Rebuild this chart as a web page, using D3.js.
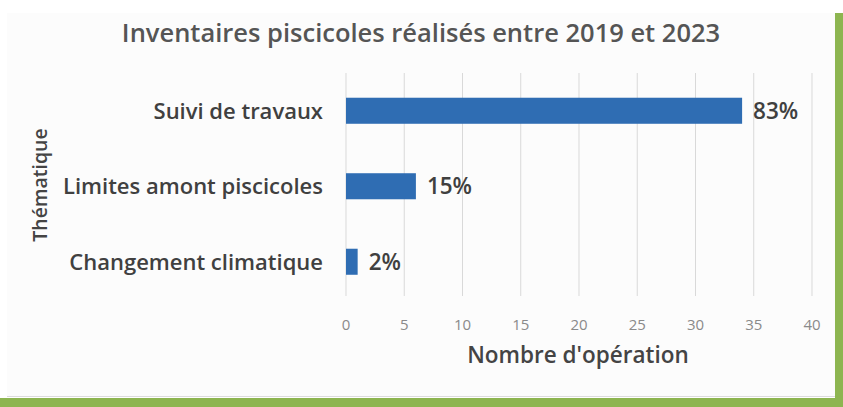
<!DOCTYPE html>
<meta charset="utf-8">
<style>
body {margin: 0; background: #fff;}
text {font-family: "Open Sans", sans-serif;}
</style>
<html>
<body>
<script src="https://d3js.org/d3.v7.min.js"></script>
<script>
var width = 843,
    height = 407;

// data
var themes = ["Suivi de travaux", "Limites amont piscicoles", "Changement climatique"];
var counts = [34, 6, 1];
var pctLabels = ["83%", "15%", "2%"];
var xTicks = [0, 5, 10, 15, 20, 25, 30, 35, 40];

var svg = d3.select("body").append("svg")
    .attr("width", width)
    .attr("height", height);

// green frame + light panel
svg.append("rect").attr("x", 0).attr("y", 398).attr("width", width).attr("height", 9).attr("fill", "#8db550");
svg.append("rect").attr("x", 835).attr("y", 13).attr("width", 8).attr("height", 394).attr("fill", "#8db550");
svg.append("rect").attr("x", 7).attr("y", 13).attr("width", 828).attr("height", 383).attr("fill", "#fcfcfc");
svg.append("line").attr("x1", 7).attr("x2", 835).attr("y1", 396.5).attr("y2", 396.5).attr("stroke", "#dcdcdc");

var x = d3.scaleLinear()
    .domain([0, 40])
    .range([346, 812]);

var y = d3.scaleBand()
    .domain(themes)
    .range([73, 299.5])
    .paddingInner(0.655)
    .paddingOuter(0.3275);

// gridlines
svg.append("g").selectAll("line")
    .data(xTicks)
    .enter().append("line")
    .attr("x1", d => x(d)).attr("x2", d => x(d))
    .attr("y1", 73).attr("y2", 296)
    .attr("stroke", "#d9d9d9")
    .attr("stroke-width", 1);

// x tick labels
svg.append("g").selectAll("text")
    .data(xTicks)
    .enter().append("text")
    .attr("x", d => x(d))
    .attr("y", 330)
    .attr("text-anchor", "middle")
    .attr("fill", "#8a8a8a")
    .style("font-size", "15px")
    .text(d => d);

// bars
svg.append("g").selectAll("rect")
    .data(counts)
    .enter().append("rect")
    .attr("x", x(0))
    .attr("y", (d, i) => y(themes[i]))
    .attr("width", d => x(d) - x(0))
    .attr("height", y.bandwidth())
    .attr("fill", "#2f6db3");

// value labels
svg.append("g").selectAll("text")
    .data(counts)
    .enter().append("text")
    .attr("x", d => x(d) + 11)
    .attr("y", (d, i) => y(themes[i]) + y.bandwidth() / 2)
    .attr("dy", "0.36em")
    .attr("fill", "#404040")
    .style("font-size", "22.5px")
    .style("font-weight", "600")
    .text((d, i) => pctLabels[i]);

// category labels
svg.append("g").selectAll("text")
    .data(themes)
    .enter().append("text")
    .attr("x", 323)
    .attr("y", d => y(d) + y.bandwidth() / 2)
    .attr("dy", "0.36em")
    .attr("text-anchor", "end")
    .attr("fill", "#404040")
    .style("font-size", "22px")
    .style("font-weight", "600")
    .text(d => d);

// titles
svg.append("text")
    .attr("x", 421).attr("y", 42)
    .attr("text-anchor", "middle")
    .attr("fill", "#555")
    .style("font-size", "25.5px")
    .style("font-weight", "600")
    .text("Inventaires piscicoles réalisés entre 2019 et 2023");

svg.append("text")
    .attr("x", 578).attr("y", 363)
    .attr("text-anchor", "middle")
    .attr("fill", "#444")
    .style("font-size", "22.5px")
    .style("font-weight", "600")
    .text("Nombre d'opération");

svg.append("text")
    .attr("transform", "translate(47,185) rotate(-90)")
    .attr("text-anchor", "middle")
    .attr("fill", "#444")
    .style("font-size", "19.5px")
    .style("font-weight", "600")
    .text("Thématique");
</script>
</body>
</html>
